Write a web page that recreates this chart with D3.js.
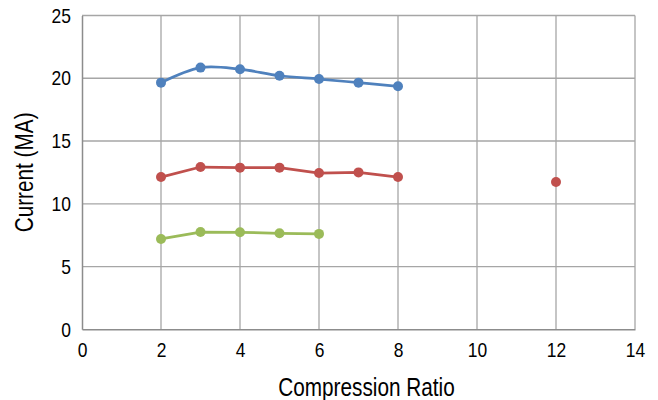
<!DOCTYPE html>
<html><head><meta charset="utf-8">
<script src="https://cdn.jsdelivr.net/npm/d3@7"></script>
<style>
html,body{margin:0;padding:0;background:#fff;}
text{font-family:"Liberation Sans Narrow","Arial Narrow","Liberation Sans",Arial,sans-serif;fill:#000;}
</style></head>
<body><svg id="c" width="658" height="400"></svg>
<script>
const xTicks = [0,2,4,6,8,10,12,14];
const yTicks = [0,5,10,15,20,25];
const blueX = [2,3,4,5,6,7,8];
const blueY = [19.65,20.85,20.72,20.2,19.94,19.65,19.36];
const redX = [2,3,4,5,6,7,8,12];
const redY = [12.13,12.93,12.88,12.88,12.45,12.5,12.13,11.74];
const redBreakAfter = 8; // points beyond this are not connected
const greenX = [2,3,4,5,6];
const greenY = [7.2,7.75,7.73,7.65,7.6];

const svg = d3.select("#c");
const L=82, R=635, T=15.5, B=329.3;
const x = d3.scaleLinear().domain([0,14]).range([L,R]);
const y = d3.scaleLinear().domain([0,25]).range([B,T]);
const grid = "#a6a6a6";

// gridlines
svg.append("g").selectAll("line.v").data(xTicks.slice(1)).join("line")
  .attr("x1",d=>x(d)).attr("x2",d=>x(d)).attr("y1",T).attr("y2",B)
  .attr("stroke",grid).attr("stroke-width",1.3);
svg.append("g").selectAll("line.h").data(yTicks.slice(1)).join("line")
  .attr("x1",L).attr("x2",R).attr("y1",d=>y(d)).attr("y2",d=>y(d))
  .attr("stroke",grid).attr("stroke-width",1.3);

// axes
const xa = svg.append("g").attr("transform",`translate(0,${B})`)
  .call(d3.axisBottom(x).tickValues(xTicks).tickSize(0).tickPadding(13));
const ya = svg.append("g").attr("transform",`translate(${L},0)`)
  .call(d3.axisLeft(y).tickValues(yTicks).tickSize(0).tickPadding(11));
[xa,ya].forEach(a=>{
  a.select(".domain").attr("stroke","#8c8c8c").attr("stroke-width",1.5);
  a.selectAll("text").attr("font-size",21).style("font-family",'"Liberation Sans Narrow","Arial Narrow","Liberation Sans",Arial,sans-serif');
});

// series
function series(xs, ys, color, curve, breakAfter){
  const pts = xs.map((d,i)=>({x:d,y:ys[i]}));
  const linePts = breakAfter==null ? pts : pts.filter(p=>p.x<=breakAfter);
  svg.append("path").datum(linePts)
    .attr("d", d3.line().x(d=>x(d.x)).y(d=>y(d.y)).curve(curve))
    .attr("fill","none").attr("stroke",color).attr("stroke-width",2.75)
    .attr("stroke-linejoin","round");
  svg.append("g").selectAll("circle").data(pts).join("circle")
    .attr("cx",d=>x(d.x)).attr("cy",d=>y(d.y)).attr("r",5).attr("fill",color);
}
series(blueX, blueY, "#4f81bd", d3.curveCardinal.tension(0));
series(redX, redY, "#c0504d", d3.curveLinear, redBreakAfter);
series(greenX, greenY, "#9bbb59", d3.curveLinear);

// titles
svg.append("text").attr("x",(L+R)/2+8).attr("y",396).attr("text-anchor","middle")
  .attr("font-size",25).text("Compression Ratio");
svg.append("text").attr("transform",`translate(33,${(T+B)/2}) rotate(-90)`)
  .attr("text-anchor","middle").attr("font-size",25).text("Current (MA)");

// condense text to emulate a narrow face
svg.selectAll("text").each(function(){
  const w = this.getComputedTextLength();
  d3.select(this).attr("textLength", w*0.83).attr("lengthAdjust","spacingAndGlyphs");
});
</script></body></html>
